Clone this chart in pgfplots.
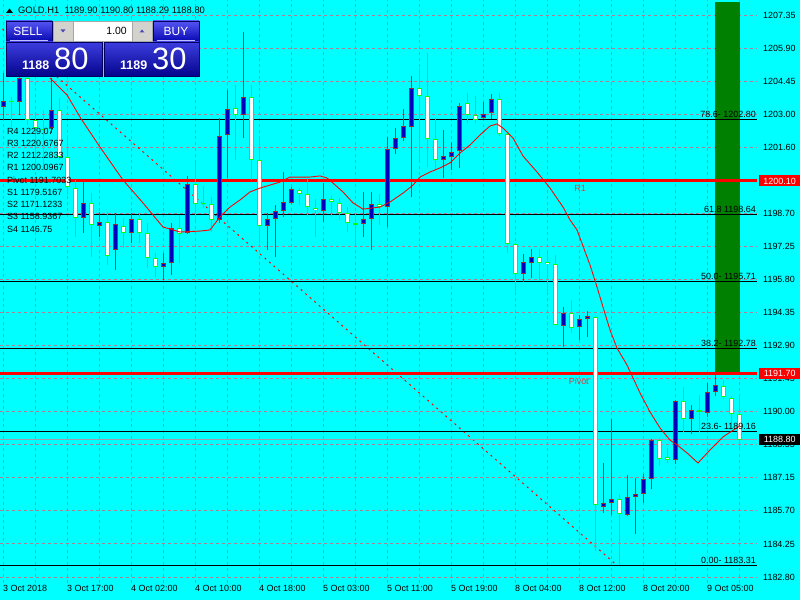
\documentclass[border=0pt]{standalone}
\usepackage{fontspec}
\setmainfont{Liberation Sans}
\usepackage{pgfplots}
\pgfplotsset{compat=1.18}
\usepackage{pgfplotstable}

\definecolor{mtcyan}{RGB}{0,255,255}
\definecolor{mtgrid}{RGB}{165,130,150}
\definecolor{mtbrown}{RGB}{165,42,42}
\definecolor{mtlime}{RGB}{0,255,0}
\definecolor{mtblue}{RGB}{0,0,185}
\definecolor{mtgreen}{RGB}{0,128,0}
\definecolor{mtred}{RGB}{255,0,0}
\definecolor{mtbid}{RGB}{170,150,170}
\definecolor{btntop}{RGB}{85,85,245}
\definecolor{btnbot}{RGB}{5,5,175}
\definecolor{btnedge}{RGB}{0,0,95}
\definecolor{spingrey}{RGB}{212,210,205}
\definecolor{labred}{RGB}{225,55,55}
\newcommand{\mtfont}{\fontsize{9}{10}\selectfont}
\pgfplotsset{candle/.style={only marks, mark=*, mark size=0pt, mark options={draw opacity=0, fill opacity=0},
  error bars/.cd, y dir=plus, y explicit, error mark=none, error bar style={#1}}}

% bullish candles (blue body): index, open, high, low, close
\pgfplotstableread{
i o h l c
0 1203.33 1204.82 1202.76 1203.59
2 1203.55 1204.95 1202.98 1204.60
6 1202.41 1204.60 1202.20 1203.20
10 1198.48 1200.14 1197.83 1199.14
12 1198.13 1198.74 1197.65 1198.31
14 1197.08 1198.70 1196.21 1198.22
16 1197.83 1198.70 1197.39 1198.44
20 1196.34 1196.95 1195.77 1196.52
21 1196.52 1198.26 1195.99 1198.05
23 1197.83 1200.32 1197.78 1199.97
27 1198.40 1202.85 1198.26 1202.06
28 1202.11 1204.07 1200.23 1203.24
30 1202.98 1206.61 1201.98 1203.77
33 1198.13 1198.70 1197.08 1198.44
34 1198.44 1199.05 1196.78 1198.79
35 1198.79 1200.49 1198.53 1199.18
36 1199.14 1199.84 1199.10 1199.75
40 1198.79 1200.01 1198.31 1199.31
45 1198.22 1199.62 1197.65 1198.44
46 1198.44 1199.62 1197.08 1199.09
48 1198.96 1202.02 1198.09 1201.50
49 1201.50 1202.41 1201.28 1201.98
50 1201.98 1203.24 1201.85 1202.50
51 1202.46 1204.69 1199.40 1204.16
55 1201.02 1202.33 1200.23 1201.19
56 1201.15 1201.80 1200.58 1201.37
57 1201.41 1203.51 1200.67 1203.37
60 1202.85 1203.55 1202.81 1203.03
61 1203.07 1203.90 1202.81 1203.68
65 1196.04 1196.91 1195.69 1196.56
66 1196.52 1197.13 1195.86 1196.78
70 1193.76 1194.59 1192.85 1194.33
72 1193.72 1194.25 1193.15 1194.07
73 1194.07 1194.42 1193.28 1194.20
75 1185.86 1187.78 1185.60 1186.03
76 1186.03 1189.70 1185.51 1186.21
78 1185.51 1187.26 1185.47 1186.30
79 1186.30 1187.13 1184.68 1186.43
80 1186.43 1187.30 1186.03 1187.08
81 1187.08 1188.83 1186.64 1188.78
84 1187.91 1190.53 1187.74 1190.49
86 1189.70 1190.31 1189.05 1190.09
88 1189.96 1191.27 1189.79 1190.88
89 1190.88 1191.76 1190.71 1191.19
}\bull

% bearish candles (white body)
\pgfplotstableread{
i o h l c
1 1203.59 1203.77 1202.46 1203.55
3 1204.60 1204.82 1202.55 1202.76
4 1202.76 1202.98 1200.80 1202.41
5 1202.37 1203.20 1200.58 1202.33
7 1203.20 1203.72 1201.02 1201.15
8 1201.15 1202.11 1199.49 1199.84
9 1199.79 1200.14 1197.65 1198.48
11 1199.14 1199.57 1196.78 1198.18
13 1198.31 1198.74 1196.43 1196.82
15 1198.13 1198.48 1197.17 1197.83
17 1198.44 1198.70 1197.39 1197.83
18 1197.83 1198.26 1196.30 1196.74
19 1196.74 1196.95 1195.91 1196.34
22 1198.05 1198.61 1196.52 1197.78
24 1199.97 1200.89 1198.40 1199.09
25 1199.14 1199.88 1198.92 1199.09
26 1199.09 1199.40 1197.87 1198.40
29 1203.29 1204.29 1201.02 1202.98
31 1203.77 1204.29 1200.14 1201.02
32 1201.02 1201.98 1197.39 1198.13
37 1199.71 1199.79 1199.05 1199.53
38 1199.53 1200.23 1198.53 1198.96
39 1198.92 1199.31 1197.65 1198.83
41 1199.31 1199.44 1198.53 1199.18
42 1199.14 1199.36 1198.40 1198.70
43 1198.70 1198.96 1197.87 1198.26
44 1198.26 1198.70 1197.35 1198.18
47 1199.09 1199.53 1198.18 1198.96
52 1204.16 1205.03 1201.02 1203.81
53 1203.81 1205.69 1200.71 1201.93
54 1201.93 1202.85 1200.58 1201.02
58 1203.51 1203.94 1202.63 1202.98
59 1202.98 1203.81 1202.63 1202.76
62 1203.68 1203.94 1202.06 1202.15
63 1202.15 1202.18 1196.95 1197.35
64 1197.35 1197.38 1195.21 1196.04
67 1196.78 1197.13 1195.73 1196.52
68 1196.56 1196.95 1195.21 1196.47
69 1196.47 1196.87 1193.79 1193.81
71 1194.33 1194.90 1193.46 1193.68
74 1194.16 1194.20 1183.94 1185.95
77 1186.21 1186.43 1183.31 1185.55
82 1188.78 1188.87 1187.65 1187.96
83 1188.04 1188.44 1187.78 1187.91
85 1190.49 1191.10 1189.13 1189.70
87 1190.09 1190.75 1189.13 1190.01
90 1191.14 1191.41 1190.58 1190.66
91 1190.62 1190.71 1189.53 1189.92
92 1189.90 1190.80 1188.29 1188.80
}\bear

\begin{document}
\begin{tikzpicture}
\fill[mtcyan] (0,0) rectangle (800bp,600bp);
\begin{axis}[
  at={(0,17bp)}, anchor=south west,
  scale only axis, width=757bp, height=583bp,
  xmin=-0.375, xmax=94.25,
  ymin=1182.538, ymax=1208.005,
  axis line style={draw=none},
  major tick length=0pt,
  xtick={0,4,...,92},
  xticklabels={3 Oct 2018,,3 Oct 17:00,,4 Oct 02:00,,4 Oct 10:00,,4 Oct 18:00,,5 Oct 03:00,,5 Oct 11:00,,5 Oct 19:00,,8 Oct 04:00,,8 Oct 12:00,,8 Oct 20:00,,9 Oct 05:00,},
  xticklabel style={anchor=north west, inner sep=0pt, yshift=-2.5bp, font=\mtfont},
  ytick={1182.80,1184.2441,1185.6882,1187.1324,1188.5765,1190.0206,1191.4647,1192.9088,1194.3529,1195.7971,1197.2412,1198.6853,1200.1294,1201.5735,1203.0176,1204.4618,1205.9059,1207.35},
  yticklabels={1182.80,1184.25,1185.70,1187.15,1188.55,1190.00,1191.45,1192.90,1194.35,1195.80,1197.25,1198.70,,1201.60,1203.00,1204.45,1205.90,1207.35},
  yticklabel pos=right,
  yticklabel style={anchor=west, inner sep=0pt, xshift=6bp, font=\mtfont},
  grid=major,
  major grid style={mtgrid, dash pattern=on 3bp off 3bp, line width=0.9bp},
  clip mode=individual,
]
% green rectangle
\addplot[fill=mtgreen, draw=none] coordinates {(89,1191.70) (92.1,1191.70) (92.1,1207.9) (89,1207.9)} -- cycle;
% fibonacci trend line
\addplot[mtred, line width=1bp, dash pattern=on 2bp off 4bp] coordinates {(-4.6,1208.11) (76.75,1183.31)};
% fibonacci levels
\addplot[black, line width=1bp] coordinates {(-1,1202.80) (94.2,1202.80)};
\addplot[black, line width=1bp] coordinates {(-1,1198.64) (94.2,1198.64)};
\addplot[black, line width=1bp] coordinates {(-1,1195.71) (94.2,1195.71)};
\addplot[black, line width=1bp] coordinates {(-1,1192.78) (94.2,1192.78)};
\addplot[black, line width=1bp] coordinates {(-1,1189.16) (94.2,1189.16)};
\addplot[black, line width=1bp] coordinates {(-1,1183.31) (94.2,1183.31)};
% bid line
\addplot[mtbid, line width=1bp] coordinates {(-1,1188.80) (95,1188.80)};
% pivot and R1
\addplot[mtred, line width=3bp] coordinates {(-1,1200.10) (95,1200.10)};
\addplot[mtred, line width=3bp] coordinates {(-1,1191.70) (95,1191.70)};
% wicks
\addplot[candle={draw=mtbrown, line width=1bp}]
  table[x=i, y=l, y error expr=\thisrow{h}-\thisrow{l}] {\bull};
\addplot[candle={draw=mtlime, line width=1bp}]
  table[x=i, y=l, y error expr=\thisrow{h}-\thisrow{l}] {\bear};
% bodies: outline
\addplot[candle={draw=mtbrown, line width=5bp}]
  table[x=i, y=o, y error expr=\thisrow{c}-\thisrow{o}] {\bull};
\addplot[candle={draw=mtlime, line width=5bp}]
  table[x=i, y=c, y error expr=\thisrow{o}-\thisrow{c}] {\bear};
% bodies: fill
\addplot[candle={draw=mtblue, line width=3bp}]
  table[x=i, y expr=\thisrow{o}+0.0437, y error expr={max(\thisrow{c}-\thisrow{o}-0.0874,0)}] {\bull};
\addplot[candle={draw=white, line width=3bp}]
  table[x=i, y expr=\thisrow{c}+0.0437, y error expr={max(\thisrow{o}-\thisrow{c}-0.0874,0)}] {\bear};
% moving average
\addplot[mtred, line width=0.9bp] coordinates {(5.875,1204.60) (8,1203.86) (9.625,1202.89) (12.125,1201.58) (15,1200.14) (17.5,1199.14) (19.25,1198.40) (20,1198.09) (20.875,1198.00) (22.125,1197.87) (24.625,1197.91) (25.875,1197.96) (27.125,1198.53) (28.375,1198.96) (29.625,1199.27) (30.875,1199.62) (32.125,1199.79) (33.375,1199.92) (34.625,1200.05) (35.875,1200.27) (38.375,1200.27) (39.625,1200.32) (40.5,1200.23) (41.25,1200.01) (42.5,1199.62) (43.75,1199.14) (45,1198.87) (47.125,1198.96) (48.375,1199.18) (50,1199.57) (51.25,1199.92) (52.125,1200.27) (53.375,1200.49) (54.625,1200.67) (55.875,1200.89) (57.125,1201.32) (58.375,1201.67) (59.625,1202.11) (60.875,1202.50) (61.75,1202.59) (62.5,1202.41) (63.75,1201.98) (65,1201.19) (66.75,1200.49) (68.375,1199.79) (70,1198.96) (70.875,1198.40) (71.75,1197.96) (73.375,1196.43) (74.25,1195.47) (75,1194.59) (75.875,1193.59) (76.75,1192.80) (78,1192.06) (79.625,1190.84) (80.875,1190.01) (82.125,1189.31) (83.375,1188.78) (84.25,1188.57) (85.5,1188.22) (86.875,1187.78) (88.375,1188.35) (90,1188.92) (92,1189.38)};
% fibonacci labels
\node[anchor=base east, inner sep=0pt, font=\mtfont, yshift=2bp] at (axis cs:94.125,1202.80) {78.6- 1202.80};
\node[anchor=base east, inner sep=0pt, font=\mtfont, yshift=2bp] at (axis cs:94.125,1198.64) {61.8 1198.64};
\node[anchor=base east, inner sep=0pt, font=\mtfont, yshift=2bp] at (axis cs:94.125,1195.71) {50.0- 1195.71};
\node[anchor=base east, inner sep=0pt, font=\mtfont, yshift=2bp] at (axis cs:94.125,1192.78) {38.2- 1192.78};
\node[anchor=base east, inner sep=0pt, font=\mtfont, yshift=2bp] at (axis cs:94.125,1189.16) {23.6- 1189.16};
\node[anchor=base east, inner sep=0pt, font=\mtfont, yshift=2bp] at (axis cs:94.125,1183.31) {0.00- 1183.31};
% pivot labels
\node[anchor=west, inner sep=0pt, font=\mtfont, text=labred] at (axis cs:71.4,1199.77) {R1};
\node[anchor=west, inner sep=0pt, font=\mtfont, text=labred] at (axis cs:70.7,1191.33) {Pivot};
\coordinate (pR1) at (axis cs:94.25,1200.10);
\coordinate (pPV) at (axis cs:94.25,1191.70);
\coordinate (pBid) at (axis cs:94.25,1188.80);
\end{axis}
% price boxes
\node[fill=mtred, text=white, inner sep=0pt, anchor=west, minimum height=11bp, minimum width=41bp, xshift=2bp, font=\mtfont] at (pR1) {1200.10};
\node[fill=mtred, text=white, inner sep=0pt, anchor=west, minimum height=11bp, minimum width=41bp, xshift=2bp, font=\mtfont] at (pPV) {1191.70};
\node[fill=black, text=white, inner sep=0pt, anchor=west, minimum height=11bp, minimum width=41bp, xshift=2bp, font=\mtfont] at (pBid) {1188.80};
% overlay panel, pixel coordinates from top-left
\begin{scope}[x=1bp, y=-1bp, yshift=600bp]
  % pivot levels text
  \foreach \yy/\tt in {131/R4 1229.07, 143.25/R3 1220.6767, 155.5/R2 1212.2833, 167.75/R1 1200.0967, 180/Pivot 1191.7033, 192.25/S1 1179.5167, 204.5/S2 1171.1233, 216.75/S3 1158.9367, 229/S4 1146.75}
    \node[anchor=west, inner sep=0pt, font=\mtfont] at (7,\yy) {\tt};
  % header
  \fill[black] (6,13) -- (13,13) -- (9.5,8.5) -- cycle;
  \node[anchor=base west, inner sep=0pt, font=\fontsize{9.4}{10}\selectfont] at (18,14) {GOLD.H1\ \ 1189.90 1190.80 1188.29 1188.80};
  % sell
  \shade[top color=btntop, bottom color=btnbot, draw=btnedge] (6,21) rectangle (52,42);
  \shade[top color=btntop!70!btnbot, bottom color=btnbot!80!black, draw=btnedge] (6,42) rectangle (102,76);
  \draw[white!75!blue, line width=1bp] (10,41) -- (48,41);
  \node[text=white, inner sep=0pt, font=\fontsize{12}{12}\selectfont] at (28,31) {SELL};
  \node[anchor=base west, text=white, inner sep=0pt, font=\fontsize{12.5}{12}\selectfont\bfseries] at (22,70) {1188};
  \node[anchor=base west, text=white, inner sep=0pt, font=\fontsize{31}{31}\selectfont] at (54,70) {80};
  % buy
  \shade[top color=btntop, bottom color=btnbot, draw=btnedge] (153,21) rectangle (199,42);
  \shade[top color=btntop!70!btnbot, bottom color=btnbot!80!black, draw=btnedge] (104,42) rectangle (199,76);
  \draw[white!75!blue, line width=1bp] (157,41) -- (195,41);
  \node[text=white, inner sep=0pt, font=\fontsize{12}{12}\selectfont] at (176,31) {BUY};
  \node[anchor=base west, text=white, inner sep=0pt, font=\fontsize{12.5}{12}\selectfont\bfseries] at (120,70) {1189};
  \node[anchor=base west, text=white, inner sep=0pt, font=\fontsize{31}{31}\selectfont] at (152,70) {30};
  % volume spinner
  \fill[spingrey, draw=gray!70] (53,21) rectangle (73,41);
  \fill[white, draw=gray!70] (73,21) rectangle (132,41);
  \fill[spingrey, draw=gray!70] (132,21) rectangle (152,41);
  \fill[blue!40!gray] (60.5,29.5) -- (65.5,29.5) -- (63,32.5) -- cycle;
  \fill[blue!40!gray] (139.5,32.5) -- (144.5,32.5) -- (142,29.5) -- cycle;
  \node[anchor=east, inner sep=0pt, font=\fontsize{10.5}{11}\selectfont] at (127,31) {1.00};
\end{scope}
\pgfresetboundingbox
\useasboundingbox (0,0) rectangle (800bp,600bp);
\end{tikzpicture}
\end{document}
